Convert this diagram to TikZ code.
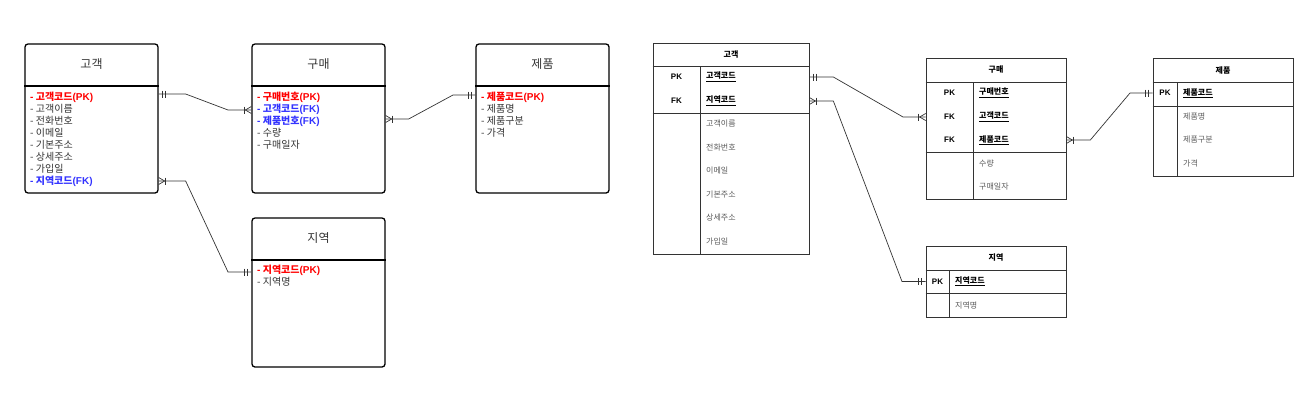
\documentclass[tikz,border=0pt]{standalone}
\usepackage{fontspec}
\setmainfont{Noto Sans CJK KR}
\newfontfamily\lat{Liberation Sans}
\usepackage{xcolor}
\usetikzlibrary{positioning}
\usetikzlibrary{calc}
\definecolor{pkred}{RGB}{255,0,0}
\definecolor{fkblue}{RGB}{51,51,255}
\definecolor{txtgray}{RGB}{51,51,51}
\definecolor{attrgray}{RGB}{90,90,90}
\definecolor{tblgray}{RGB}{51,51,51}
\newcommand\pkline[1]{\textcolor{pkred}{\bfseries{\lat\bfseries -} #1{\lat\bfseries(PK)}}}
\newcommand\fkline[1]{\textcolor{fkblue}{\bfseries{\lat\bfseries -} #1{\lat\bfseries(FK)}}}
% one and only one
\newcommand\mandone[2]{
  \draw[rel] ($(#1)+(#2*4,-3.5)$) -- ++(0,7);
  \draw[rel] ($(#1)+(#2*7,-3.5)$) -- ++(0,7);
}
% one or many
\newcommand\onemany[2]{
  \draw[rel] ($(#1)+(0,-3.5)$) -- ($(#1)+(#2*6,0)$) -- ($(#1)+(0,3.5)$);
  \draw[rel] ($(#1)+(#2*7,-3.5)$) -- ++(0,7);
}

\begin{document}
\begin{tikzpicture}[x=1pt, y=-1pt,
  entity/.style={draw, line width=1.3pt, rounded corners=3pt, minimum width=133pt, minimum height=149pt, inner sep=0},
  etitle/.style={font=\fontsize{12}{14}\selectfont, text=txtgray},
  elist/.style={anchor=north west, align=left, inner sep=0, text=txtgray, font=\fontsize{10}{12}\selectfont},
  rel/.style={draw=txtgray, line width=0.7pt},
  tbl/.style={draw=tblgray, line width=0.7pt, inner sep=0, minimum width=140pt},
  tline/.style={draw=tblgray, line width=0.7pt},
  ttitle/.style={font=\fontsize{8}{10}\selectfont\bfseries},
  tkey/.style={font=\fontsize{8}{10}\selectfont\bfseries\lat},
  tname/.style={anchor=west, inner sep=0, font=\fontsize{8}{10}\selectfont\bfseries},
  tattr/.style={anchor=west, inner sep=0, text=attrgray, font=\fontsize{8}{10}\selectfont}]
\useasboundingbox (0,0) rectangle (1315,407);

% ---- left: conceptual model
\node[entity] (cust) at (91.5,118.5) {};
\node[entity] (buy) at (318.5,118.5) {};
\node[entity] (prod) at (542.5,118.5) {};
\node[entity] (area) at (318.5,292.5) {};
\foreach \e in {cust,buy,prod}
  \draw[line width=1.3pt] (\e.west |- 0,86) -- (\e.east |- 0,86);
\draw[line width=1.3pt] (area.west |- 0,260) -- (area.east |- 0,260);

\node[etitle] (custname) at (91.5,64) {고객};
\node[etitle] (buyname) at (318.5,64) {구매};
\node[etitle] (prodname) at (542.5,64) {제품};
\node[etitle] (areaname) at (318.5,238) {지역};

\node[elist] (custlist) at (30,92) {\pkline{고객코드}\\- 고객이름\\- 전화번호\\- 이메일\\- 기본주소\\- 상세주소\\- 가입일\\\fkline{지역코드}};
\node[elist] (buylist) at (257,92) {\pkline{구매번호}\\\fkline{고객코드}\\\fkline{제품번호}\\- 수량\\- 구매일자};
\node[elist] (prodlist) at (481,92) {\pkline{제품코드}\\- 제품명\\- 제품구분\\- 가격};
\node[elist] (arealist) at (257,265) {\pkline{지역코드}\\- 지역명};

\coordinate (c1) at (cust.east |- 0,94);
\coordinate (b1) at (buy.west |- 0,110);
\coordinate (c2) at (cust.east |- 0,181);
\coordinate (a1) at (area.west |- 0,272);
\coordinate (b2) at (buy.east |- 0,119);
\coordinate (p1) at (prod.west |- 0,95);
\draw[rel] (c1) -- ++(27,0) -- (228,110) -- (b1);
\draw[rel] (c2) -- ++(27,0) -- (228,272) -- (a1);
\draw[rel] (b2) -- ++(23,0) -- (453,95) -- (p1);
\mandone{c1}{1}
\onemany{b1}{-1}
\onemany{c2}{1}
\mandone{a1}{-1}
\onemany{b2}{1}
\mandone{p1}{-1}

% ---- right: logical model
\node[tbl, minimum width=156pt, minimum height=211pt] (rcust) at (731,148.5) {};
\draw[tline] (rcust.west |- 0,66) -- (rcust.east |- 0,66);
\draw[tline] (rcust.west |- 0,113) -- (rcust.east |- 0,113);
\draw[tline] (700,66) -- (rcust.south -| 700,0);
\node[ttitle] (rcustname) at (731,54.5) {고객};
\node[tkey] (rcustk1) at (676.5,77) {PK};
\node[tkey] (rcustk2) at (676.5,101) {FK};
\node[tname] (rcustpk) at (706,77) {\underline{고객코드}};
\node[tname] (rcustfk) at (706,101) {\underline{지역코드}};
\foreach \t [count=\i] in {고객이름,전화번호,이메일,기본주소,상세주소,가입일}
  \node[tattr] at (706,{100.5+23.5*\i}) {\t};

\node[tbl, minimum height=141pt] (rbuy) at (996,128.5) {};
\draw[tline] (rbuy.west |- 0,82) -- (rbuy.east |- 0,82);
\draw[tline] (rbuy.west |- 0,152.5) -- (rbuy.east |- 0,152.5);
\draw[tline] (973,82) -- (rbuy.south -| 973,0);
\node[ttitle] (rbuyname) at (996,70) {구매};
\node[tkey] at (949.5,93) {PK};
\node[tkey] at (949.5,117) {FK};
\node[tkey] at (949.5,140) {FK};
\node[tname] (rbuypk) at (979,93) {\underline{구매번호}};
\node[tname] (rbuyfk1) at (979,117) {\underline{고객코드}};
\node[tname] (rbuyfk2) at (979,140) {\underline{제품코드}};
\node[tattr] at (979,163.5) {수량};
\node[tattr] at (979,187) {구매일자};

\node[tbl, minimum height=118pt] (rprod) at (1223,117) {};
\draw[tline] (rprod.west |- 0,82) -- (rprod.east |- 0,82);
\draw[tline] (rprod.west |- 0,106) -- (rprod.east |- 0,106);
\draw[tline] (1177,82) -- (rprod.south -| 1177,0);
\node[ttitle] (rprodname) at (1223,70) {제품};
\node[tkey] at (1165,93) {PK};
\node[tname] (rprodpk) at (1183,93) {\underline{제품코드}};
\foreach \t [count=\i] in {제품명,제품구분,가격}
  \node[tattr] at (1183,{93+23.5*\i}) {\t};

\node[tbl, minimum height=71pt] (rarea) at (996,281.5) {};
\draw[tline] (rarea.west |- 0,270) -- (rarea.east |- 0,270);
\draw[tline] (rarea.west |- 0,293) -- (rarea.east |- 0,293);
\draw[tline] (949,270) -- (rarea.south -| 949,0);
\node[ttitle] (rareaname) at (996,257.5) {지역};
\node[tkey] at (937.5,281.5) {PK};
\node[tname] (rareapk) at (955,281.5) {\underline{지역코드}};
\node[tattr] at (955,305) {지역명};

\coordinate (r1) at (rcust.east |- rcustpk);
\coordinate (r2) at (rbuy.west |- rbuyfk1);
\coordinate (r3) at (rcust.east |- rcustfk);
\coordinate (r4) at (rarea.west |- rareapk);
\coordinate (r5) at (rbuy.east |- rbuyfk2);
\coordinate (r6) at (rprod.west |- rprodpk);
\draw[rel] (r1) -- ++(24,0) -- (903,117) -- (r2);
\draw[rel] (r3) -- ++(24,0) -- (902,281.5) -- (r4);
\draw[rel] (r5) -- ++(24,0) -- (1130,93) -- (r6);
\mandone{r1}{1}
\onemany{r2}{-1}
\onemany{r3}{1}
\mandone{r4}{-1}
\onemany{r5}{1}
\mandone{r6}{-1}
\end{tikzpicture}
\end{document}
